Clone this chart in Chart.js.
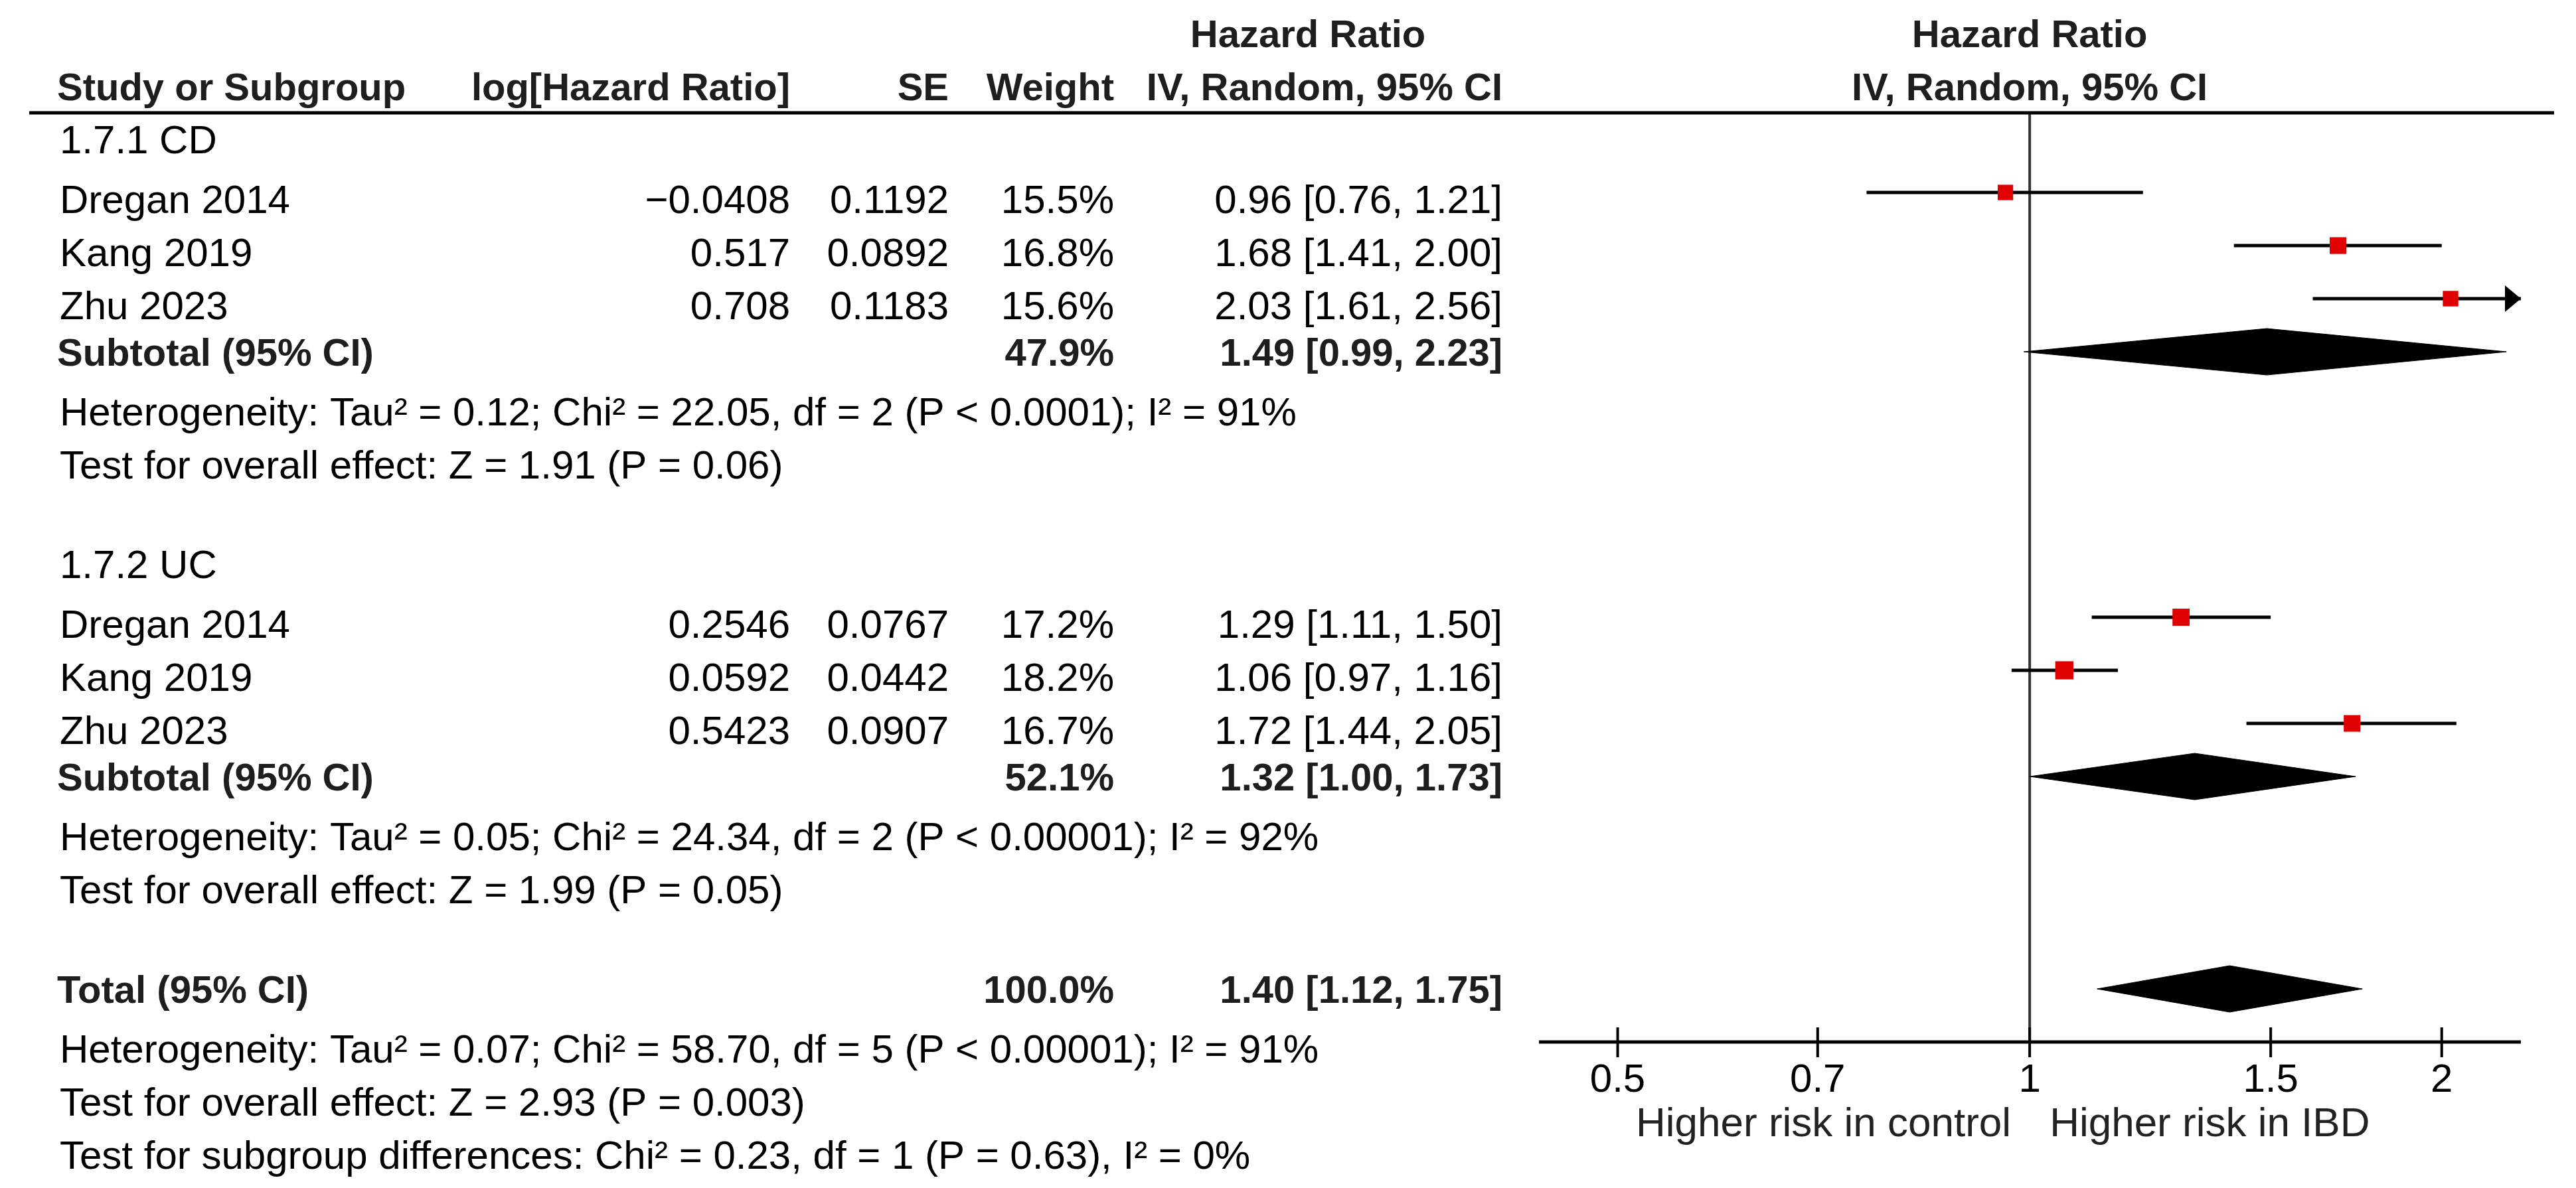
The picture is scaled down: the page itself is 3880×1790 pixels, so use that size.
<!DOCTYPE html>
<html>
<head>
<meta charset="utf-8">
<script src="https://cdn.jsdelivr.net/npm/chart.js@4.4.1/dist/chart.umd.min.js"></script>
<style>
html,body{margin:0;padding:0;background:#fff;}
#wrap{position:relative;width:3880px;height:1790px;}
</style>
</head>
<body>
<div id="wrap"><canvas id="c" width="3880" height="1790"></canvas></div>
<script>
// ---------------- DATA ----------------
const groupNames = ['1.7.1 CD', '1.7.2 UC'];
const studyNames = ['Dregan 2014', 'Kang 2019', 'Zhu 2023', 'Dregan 2014', 'Kang 2019', 'Zhu 2023'];
const studyGroup = [0, 0, 0, 1, 1, 1];
const logHR = [-0.0408, 0.517, 0.708, 0.2546, 0.0592, 0.5423];
const seValues = [0.1192, 0.0892, 0.1183, 0.0767, 0.0442, 0.0907];
const weights = [15.5, 16.8, 15.6, 17.2, 18.2, 16.7];
const hazardRatios = [0.96, 1.68, 2.03, 1.29, 1.06, 1.72];
const ciLower = [0.76, 1.41, 1.61, 1.11, 0.97, 1.44];
const ciUpper = [1.21, 2.00, 2.56, 1.50, 1.16, 2.05];

const subtotalWeights = [47.9, 52.1];
const subtotalHR = [1.49, 1.32];
const subtotalLower = [0.99, 1.00];
const subtotalUpper = [2.23, 1.73];
const subtotalHeterogeneity = [
  'Heterogeneity: Tau² = 0.12; Chi² = 22.05, df = 2 (P < 0.0001); I² = 91%',
  'Heterogeneity: Tau² = 0.05; Chi² = 24.34, df = 2 (P < 0.00001); I² = 92%'
];
const subtotalEffect = [
  'Test for overall effect: Z = 1.91 (P = 0.06)',
  'Test for overall effect: Z = 1.99 (P = 0.05)'
];

const totalWeight = 100.0;
const totalHR = 1.40;
const totalLower = 1.12;
const totalUpper = 1.75;
const totalNotes = [
  'Heterogeneity: Tau² = 0.07; Chi² = 58.70, df = 5 (P < 0.00001); I² = 91%',
  'Test for overall effect: Z = 2.93 (P = 0.003)',
  'Test for subgroup differences: Chi² = 0.23, df = 1 (P = 0.63), I² = 0%'
];

const columnHeaders = ['Study or Subgroup', 'log[Hazard Ratio]', 'SE', 'Weight', 'IV, Random, 95% CI'];
const effectTitle = 'Hazard Ratio';
const effectMethod = 'IV, Random, 95% CI';
const tickValues = [0.5, 0.7, 1, 1.5, 2];
const tickLabels = ['0.5', '0.7', '1', '1.5', '2'];
const favourLabels = ['Higher risk in control', 'Higher risk in IBD'];

// ---------------- LAYOUT ----------------
const W = 3880, H = 1790;
const FONT = "'Liberation Sans', Arial, sans-serif";
const FS = 60;       // regular text
const FSB = 58;      // bold text
const FSF = 62;      // favour labels
const ROW_PX = 80;
const AREA_TOP = 170, AREA_BOTTOM = 1570, AREA_LEFT = 2318, AREA_RIGHT = 3797;
const Y_MAX = (AREA_BOTTOM - AREA_TOP) / ROW_PX;
const X_MIN = 0.438, X_MAX = 2.285;
const DIAMOND_HALF = 35 / ROW_PX;
const TEXT_DROP = 10;
const COL = { name: 90, boldName: 86, logHR: 1190, se: 1429, weight: 1678, ci: 2263 };

// build the row structure
const rows = [];
let r = 0;
const studyRow = [];
const subtotalRow = [];
groupNames.forEach((g, gi) => {
  rows.push({ type: 'title', row: r++, text: g });
  studyNames.forEach((s, i) => {
    if (studyGroup[i] === gi) { studyRow[i] = r; rows.push({ type: 'study', row: r++, idx: i }); }
  });
  subtotalRow[gi] = r; rows.push({ type: 'subtotal', row: r++, idx: gi });
  rows.push({ type: 'note', row: r++, text: subtotalHeterogeneity[gi] });
  rows.push({ type: 'note', row: r++, text: subtotalEffect[gi] });
  r++; // blank
});
const totalRow = r; rows.push({ type: 'total', row: r++ });
totalNotes.forEach(t => rows.push({ type: 'note', row: r++, text: t }));

const fmtNum = v => String(v).replace('-', '\u2212');
const fmtCI = (e, l, u) => e.toFixed(2) + ' [' + l.toFixed(2) + ', ' + u.toFixed(2) + ']';
const fmtW = w => w.toFixed(1) + '%';

// ---------------- DATASETS ----------------
const datasets = [];
const squareRadius = ctx => weights[ctx.dataIndex] * 1.5 / Math.SQRT2;
datasets.push({
  label: 'Study estimates',
  data: hazardRatios.map((v, i) => ({ x: v, y: studyRow[i] + 0.5 })),
  showLine: false,
  pointStyle: 'rect',
  pointRadius: squareRadius,
  pointHoverRadius: squareRadius,
  backgroundColor: '#e00000',
  borderColor: '#e00000',
  borderWidth: 0,
  order: 0
});
hazardRatios.forEach((v, i) => {
  datasets.push({
    label: 'CI ' + studyNames[i],
    data: [{ x: ciLower[i], y: studyRow[i] + 0.5 }, { x: ciUpper[i], y: studyRow[i] + 0.5 }],
    showLine: true,
    borderColor: '#000',
    borderWidth: 5,
    pointRadius: 0,
    pointHoverRadius: 0,
    clip: 0,
    order: 1
  });
});
function diamond(est, lo, hi, row, label) {
  const y = row + 0.5;
  return {
    label: label,
    data: [{ x: lo, y: y }, { x: est, y: y - DIAMOND_HALF }, { x: hi, y: y }, { x: est, y: y + DIAMOND_HALF }, { x: lo, y: y }],
    showLine: true,
    fill: 'shape',
    backgroundColor: '#000',
    borderColor: '#000',
    borderWidth: 1,
    pointRadius: 0,
    pointHoverRadius: 0,
    tension: 0,
    order: 1
  };
}
subtotalHR.forEach((v, gi) => datasets.push(diamond(v, subtotalLower[gi], subtotalUpper[gi], subtotalRow[gi], 'Subtotal ' + groupNames[gi])));
datasets.push(diamond(totalHR, totalLower, totalUpper, totalRow, 'Total'));
datasets.push({
  label: 'No effect',
  data: [{ x: 1, y: 0 }, { x: 1, y: Y_MAX }],
  showLine: true,
  borderColor: '#333',
  borderWidth: 4,
  pointRadius: 0,
  pointHoverRadius: 0,
  order: 2
});

// ---------------- TEXT PLUGIN ----------------
const tablePlugin = {
  id: 'forestTable',
  afterDraw(chart) {
    const ctx = chart.ctx;
    const xs = chart.scales.x, ys = chart.scales.y;
    const area = chart.chartArea;
    const rowY = rr => ys.getPixelForValue(rr + 0.5);
    function txt(s, x, cy, align, bold, color, size) {
      const fs = size || (bold ? FSB : FS);
      ctx.save();
      ctx.font = (bold ? 'bold ' : '') + fs + 'px ' + FONT;
      ctx.fillStyle = color || '#000';
      ctx.textAlign = align;
      ctx.textBaseline = 'alphabetic';
      ctx.fillText(s, x, cy + fs * 0.716 / 2);
      ctx.restore();
    }
    const HB = '#1e1e1e';
    const h2 = rowY(-2), h1 = rowY(-1);
    txt(effectTitle, 1970, h2, 'center', true, HB);
    txt(columnHeaders[0], COL.boldName, h1, 'left', true, HB);
    txt(columnHeaders[1], COL.logHR, h1, 'right', true, HB);
    txt(columnHeaders[2], COL.se, h1, 'right', true, HB);
    txt(columnHeaders[3], COL.weight, h1, 'right', true, HB);
    txt(columnHeaders[4], COL.ci, h1, 'right', true, HB);
    const x1 = xs.getPixelForValue(1);
    txt(effectTitle, x1, h2, 'center', true, HB);
    txt(effectMethod, x1, h1, 'center', true, HB);
    ctx.save();
    ctx.strokeStyle = '#000';
    ctx.lineWidth = 5;
    ctx.beginPath();
    ctx.moveTo(44, area.top);
    ctx.lineTo(3847, area.top);
    ctx.stroke();
    ctx.restore();
    rows.forEach(rw => {
      const cy = rowY(rw.row);
      if (rw.type === 'title') {
        txt(rw.text, COL.name, cy, 'left', false);
      } else if (rw.type === 'study') {
        const i = rw.idx, y = cy + TEXT_DROP;
        txt(studyNames[i], COL.name, y, 'left', false);
        txt(fmtNum(logHR[i]), COL.logHR, y, 'right', false);
        txt(fmtNum(seValues[i]), COL.se, y, 'right', false);
        txt(fmtW(weights[i]), COL.weight, y, 'right', false);
        txt(fmtCI(hazardRatios[i], ciLower[i], ciUpper[i]), COL.ci, y, 'right', false);
      } else if (rw.type === 'subtotal') {
        const gi = rw.idx;
        txt('Subtotal (95% CI)', COL.boldName, cy, 'left', true, HB);
        txt(fmtW(subtotalWeights[gi]), COL.weight, cy, 'right', true, HB);
        txt(fmtCI(subtotalHR[gi], subtotalLower[gi], subtotalUpper[gi]), COL.ci, cy, 'right', true, HB);
      } else if (rw.type === 'total') {
        txt('Total (95% CI)', COL.boldName, cy, 'left', true, HB);
        txt(fmtW(totalWeight), COL.weight, cy, 'right', true, HB);
        txt(fmtCI(totalHR, totalLower, totalUpper), COL.ci, cy, 'right', true, HB);
      } else if (rw.type === 'note') {
        txt(rw.text, COL.name, cy + TEXT_DROP, 'left', false);
      }
    });
    ctx.save();
    ctx.strokeStyle = '#000';
    ctx.lineWidth = 5;
    ctx.beginPath();
    ctx.moveTo(area.left, area.bottom);
    ctx.lineTo(area.right, area.bottom);
    ctx.stroke();
    ctx.lineWidth = 4;
    tickValues.forEach(v => {
      const px = xs.getPixelForValue(v);
      ctx.beginPath();
      ctx.moveTo(px, area.bottom - 22);
      ctx.lineTo(px, area.bottom + 23);
      ctx.stroke();
    });
    ctx.restore();
    txt(favourLabels[0], x1 - 28, 1690, 'right', false, '#222', FSF);
    txt(favourLabels[1], x1 + 30, 1690, 'left', false, '#222', FSF);
    ctx.save();
    ctx.fillStyle = '#000';
    ciUpper.forEach((u, i) => {
      if (u > xs.max) {
        const y = rowY(studyRow[i]);
        const tip = area.right;
        ctx.beginPath();
        ctx.moveTo(tip, y);
        ctx.lineTo(tip - 24, y - 20);
        ctx.lineTo(tip - 24, y + 20);
        ctx.closePath();
        ctx.fill();
      }
    });
    ctx.restore();
  }
};

// ---------------- CHART ----------------
Chart.defaults.font.family = FONT;
new Chart(document.getElementById('c'), {
  type: 'scatter',
  data: { datasets: datasets },
  plugins: [tablePlugin],
  options: {
    responsive: false,
    maintainAspectRatio: false,
    devicePixelRatio: 1,
    animation: false,
    events: [],
    layout: { padding: { left: AREA_LEFT, right: W - AREA_RIGHT, top: AREA_TOP, bottom: 0 } },
    plugins: { legend: { display: false }, tooltip: { enabled: false }, title: { display: false } },
    scales: {
      x: {
        type: 'logarithmic',
        min: X_MIN,
        max: X_MAX,
        position: 'bottom',
        grid: { display: false, drawTicks: false, drawOnChartArea: false },
        border: { display: false },
        afterBuildTicks: s => { s.ticks = tickValues.map(v => ({ value: v })); },
        afterFit: s => { s.height = H - AREA_BOTTOM; },
        ticks: {
          autoSkip: false,
          maxRotation: 0,
          minRotation: 0,
          padding: 22,
          color: '#000',
          font: { size: FS, family: FONT, lineHeight: 1.2 },
          callback: (value, index) => tickLabels[index]
        }
      },
      y: {
        type: 'linear',
        display: false,
        reverse: true,
        min: 0,
        max: Y_MAX
      }
    }
  }
});
</script>
</body>
</html>
